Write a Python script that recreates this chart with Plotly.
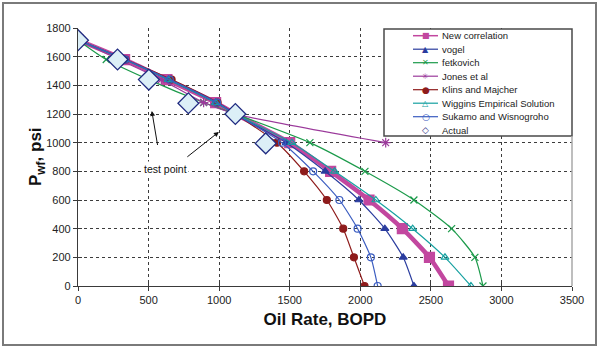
import plotly.graph_objects as go

# Bottom-hole flowing pressure levels (psi) and oil rates (BOPD) per IPR method
pwf = [1715, 1580, 1440, 1280, 1200, 1000, 800, 600, 400, 200, 0]
q_new = [0, 330, 630, 975, 1115, 1500, 1790, 2062, 2298, 2490, 2625]
q_vogel = [0, 330, 640, 975, 1115, 1475, 1751, 1990, 2174, 2304, 2380]
q_fetkovich = [0, 200, 500, 890, 1115, 1643, 2033, 2380, 2647, 2812, 2869]
pwf_jones = [1715, 1580, 1440, 1280, 1200, 1000]
q_jones = [0, 290, 590, 890, 1115, 2180]
q_klins = [0, 337, 663, 989, 1115, 1410, 1602, 1763, 1879, 1955, 2030]
q_wiggins = [0, 330, 640, 975, 1115, 1515, 1818, 2110, 2371, 2600, 2784]
q_sukamo = [0, 335, 650, 985, 1115, 1445, 1666, 1852, 1981, 2075, 2123]
pwf_actual = [1715, 1580, 1440, 1275, 1200, 995]
q_actual = [0, 280, 502, 782, 1115, 1330]

x_ticks = [0, 500, 1000, 1500, 2000, 2500, 3000, 3500]
y_ticks = [0, 200, 400, 600, 800, 1000, 1200, 1400, 1600, 1800]

W, H = 600, 348
ML, MR, MT, MB = 78, 28, 28, 62
PW, PH = W - ML - MR, H - MT - MB
FONT = "Liberation Sans, Arial, sans-serif"


def px_x(px):
    return (px - ML) / PW


def px_y(py):
    return (H - MB - py) / PH


series = [
    dict(name="New correlation", q=q_new, p=pwf, color="#C2479F", symbol="square",
         size=10, width=4.5, glyph="■", gsize=8),
    dict(name="vogel", q=q_vogel, p=pwf, color="#2A3C9E", symbol="triangle-up",
         size=7, width=1.2, glyph="▲", gsize=8),
    dict(name="fetkovich", q=q_fetkovich, p=pwf, color="#1B9A4A", symbol="x-thin-open",
         size=7, width=1.2, glyph="✕", gsize=8),
    dict(name="Jones et al", q=q_jones, p=pwf_jones, color="#9B3A9B", symbol="asterisk-open",
         size=8, width=1.2, glyph="✳", gsize=8),
    dict(name="Klins and Majcher", q=q_klins, p=pwf, color="#8E1B1B", symbol="circle",
         size=7, width=1.2, glyph="●", gsize=9),
    dict(name="Wiggins Empirical Solution", q=q_wiggins, p=pwf, color="#15A0A0",
         symbol="triangle-up-open", size=7, width=1.2, glyph="△", gsize=8),
    dict(name="Sukamo and Wisnogroho", q=q_sukamo, p=pwf, color="#3A5CC0",
         symbol="circle-open", size=7, width=1.2, glyph="○", gsize=9),
]

fig = go.Figure()

for s in series:
    fig.add_trace(go.Scatter(
        x=s["q"], y=s["p"], name=s["name"], mode="lines+markers",
        line=dict(color=s["color"], width=s["width"], shape="spline", smoothing=0.6),
        marker=dict(symbol=s["symbol"], size=s["size"], color=s["color"],
                    line=dict(color=s["color"], width=1.2)),
        showlegend=False,
    ))

fig.add_trace(go.Scatter(
    x=q_actual, y=pwf_actual, name="Actual", mode="markers",
    marker=dict(symbol="diamond", size=16, color="#DCEFF7",
                line=dict(color="#1F2A80", width=1.3)),
    showlegend=False,
))

# cross-style tick marks: a second pair of axes carrying inside ticks
fig.add_trace(go.Scatter(x=[], y=[], xaxis="x2", yaxis="y2", showlegend=False))

shapes = []
annotations = []

# legend box
lg_left, lg_right, lg_top, lg_bottom = 384, 572, 29, 136
shapes.append(dict(type="rect", xref="paper", yref="paper",
                   x0=px_x(lg_left), x1=px_x(lg_right), y0=px_y(lg_bottom), y1=px_y(lg_top),
                   line=dict(color="#4A4A4A", width=1.5), fillcolor="white", layer="above"))

legend_rows = series + [dict(name="Actual", color="#1F2A80", glyph="◇", gsize=9, width=0)]
row0, row_step = 35.7, 13.5
for i, s in enumerate(legend_rows):
    ry = px_y(row0 + i * row_step)
    if s["width"] > 0:
        shapes.append(dict(type="line", xref="paper", yref="paper",
                           x0=px_x(413), x1=px_x(438), y0=ry, y1=ry,
                           line=dict(color=s["color"], width=min(s["width"], 1.5)),
                           layer="above"))
    annotations.append(dict(xref="paper", yref="paper", x=px_x(425.5), y=ry,
                            text=s["glyph"], showarrow=False, xanchor="center",
                            yanchor="middle",
                            font=dict(family="DejaVu Sans", size=s["gsize"], color=s["color"])))
    annotations.append(dict(xref="paper", yref="paper", x=px_x(440), y=ry,
                            text=s["name"], showarrow=False, xanchor="left", yanchor="middle",
                            font=dict(family=FONT, size=9.5, color="#222222")))

# right border of the plot area
shapes.append(dict(type="line", xref="paper", yref="paper", x0=1, x1=1, y0=0, y1=px_y(lg_bottom),
                   line=dict(color="#A8A8A8", width=1.5)))

# outer frame
shapes.append(dict(type="rect", xref="paper", yref="paper",
                   x0=px_x(3), x1=px_x(596), y0=px_y(345), y1=px_y(3),
                   line=dict(color="#7A7A7A", width=2), fillcolor="rgba(0,0,0,0)"))

# y-axis title
annotations.append(dict(xref="paper", yref="paper", x=px_x(37), y=0.5,
                        text="<b>P<sub>wf</sub>, psi</b>", textangle=-90, showarrow=False,
                        xanchor="center", yanchor="middle",
                        font=dict(family=FONT, size=17, color="#111111")))

# test point callout
annotations.append(dict(x=622, y=816, xref="x", yref="y", text="test point", showarrow=False,
                        bgcolor="white", font=dict(family=FONT, size=10.5, color="#111111")))
annotations.append(dict(x=523, y=1221, ax=566, ay=970, xref="x", yref="y", axref="x", ayref="y",
                        text=" ", showarrow=True, arrowhead=2, arrowsize=1, arrowwidth=1,
                        arrowcolor="#111111", font=dict(size=1)))
annotations.append(dict(x=998, y=1075, ax=764, ay=893, xref="x", yref="y", axref="x", ayref="y",
                        text=" ", showarrow=True, arrowhead=2, arrowsize=1, arrowwidth=1,
                        arrowcolor="#111111", font=dict(size=1)))

axis_common = dict(showline=True, linecolor="#3A3A3A", linewidth=1.2,
                   ticks="outside", ticklen=4, tickcolor="#3A3A3A", tickwidth=1,
                   showgrid=True, gridcolor="#3C3C3C", griddash="dot", gridwidth=1,
                   zeroline=False,
                   tickfont=dict(family=FONT, size=11, color="#222222"))

fig.update_layout(
    width=W, height=H,
    margin=dict(l=ML, r=MR, t=MT, b=MB),
    paper_bgcolor="white", plot_bgcolor="white",
    showlegend=False,
    xaxis=dict(range=[0, 3500], tickvals=x_ticks, **axis_common,
               title=dict(text="<b>Oil Rate, BOPD</b>", standoff=7,
                          font=dict(family=FONT, size=17, color="#111111"))),
    yaxis=dict(range=[0, 1800], tickvals=y_ticks, **axis_common),
    xaxis2=dict(range=[0, 3500], tickvals=x_ticks, overlaying="x", anchor="y2", side="bottom",
                ticks="inside", ticklen=4, tickcolor="#3A3A3A", showticklabels=False,
                showgrid=False, zeroline=False, showline=False),
    yaxis2=dict(range=[0, 1800], tickvals=y_ticks, overlaying="y", anchor="x2", side="left",
                ticks="inside", ticklen=4, tickcolor="#3A3A3A", showticklabels=False,
                showgrid=False, zeroline=False, showline=False),
    shapes=shapes,
    annotations=annotations,
)

fig.write_html("out.html")
